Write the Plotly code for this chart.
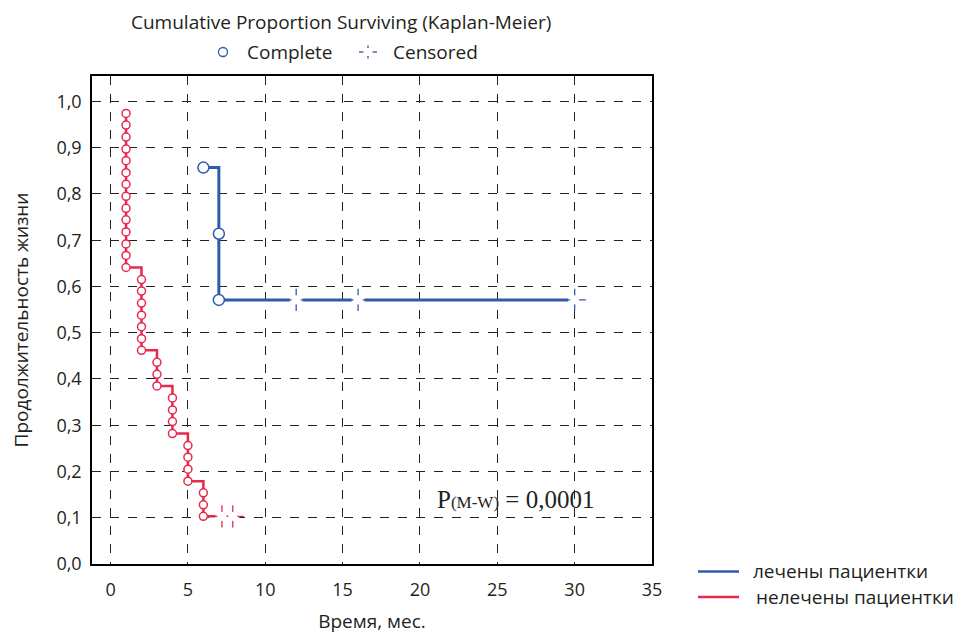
import plotly.graph_objects as go

# ---------------- data ----------------
# untreated (red): event times and KM survival at each event
red_times = [1]*14 + [2]*7 + [3]*3 + [4]*4 + [5]*4 + [6]*3
red_surv = [0.974, 0.949, 0.923, 0.897, 0.872, 0.846, 0.821, 0.795, 0.769, 0.744,
            0.718, 0.692, 0.667, 0.641,
            0.615, 0.590, 0.564, 0.538, 0.513, 0.487, 0.462,
            0.436, 0.410, 0.385,
            0.359, 0.333, 0.308, 0.282,
            0.256, 0.231, 0.205, 0.179,
            0.154, 0.128, 0.103]
red_cens_times = [7.2, 7.9]
red_cens_surv = [0.103, 0.103]

# treated (blue)
blue_times = [6, 7, 7]
blue_surv = [0.857, 0.714, 0.571]
blue_cens_times = [12, 16, 30]
blue_cens_surv = [0.571, 0.571, 0.571]

x_ticks = [0, 5, 10, 15, 20, 25, 30, 35]
y_ticks = [0.0, 0.1, 0.2, 0.3, 0.4, 0.5, 0.6, 0.7, 0.8, 0.9, 1.0]

BLUE = "#2f5bab"
RED = "#e8294d"
TXT = "#231f20"
FONT = "Open Sans"

fig = go.Figure()

def add_group(times, surv, ctimes, csurv, color, lw, msize):
    fig.add_trace(go.Scatter(x=times + ctimes, y=surv + csurv, mode="lines",
                             line=dict(color=color, width=lw, shape="hv"),
                             showlegend=False, hoverinfo="skip"))
    fig.add_trace(go.Scatter(x=times, y=surv, mode="markers",
                             marker=dict(symbol="circle", size=msize, color="white",
                                         line=dict(color=color, width=1.5)),
                             showlegend=False))
    # censored markers: white mask, thin cross, central gap
    fig.add_trace(go.Scatter(x=ctimes, y=csurv, mode="markers",
                             marker=dict(symbol="square", size=13, color="white",
                                         line=dict(width=0)),
                             showlegend=False, hoverinfo="skip"))
    fig.add_trace(go.Scatter(x=ctimes, y=csurv, mode="markers",
                             marker=dict(symbol="cross-thin", size=16, color=color,
                                         line=dict(color=color, width=1.3)),
                             showlegend=False))
    fig.add_trace(go.Scatter(x=ctimes, y=csurv, mode="markers",
                             marker=dict(symbol="square", size=9, color="white",
                                         line=dict(width=0)),
                             showlegend=False, hoverinfo="skip"))

add_group(blue_times, blue_surv, blue_cens_times, blue_cens_surv, BLUE, 3, 11)
add_group(red_times, red_surv, red_cens_times, red_cens_surv, RED, 2.5, 8)

grid = dict(showgrid=True, gridcolor="#222", gridwidth=1, griddash="dash",
            zeroline=False, showline=True, linecolor="black", linewidth=1.5,
            mirror=True, ticks="", automargin=False,
            tickfont=dict(family=FONT, size=18, color=TXT))

fig.update_xaxes(range=[-1.2, 35], tickvals=x_ticks, ticklabelstandoff=9, **grid,
                 title=dict(text="Время, мес.", font=dict(family=FONT, size=19, color=TXT),
                            standoff=14))
fig.update_yaxes(range=[0, 1.055], tickvals=y_ticks, tickformat=".1f",
                 ticklabelstandoff=5, **grid,
                 title=dict(text="Продолжительность жизни",
                            font=dict(family=FONT, size=19, color=TXT), standoff=24))

# P annotation
fig.add_annotation(x=21, y=0.14, xref="x", yref="y", xanchor="left", yanchor="middle",
                   showarrow=False,
                   text="P<span style='font-size:17px'>(M-W)</span> = 0,0001",
                   font=dict(family="Liberation Serif", size=25, color=TXT))

# page has an 8px body margin; plot area in page pixels
OFF = 8
L, T, W, H = 92, 76, 560, 488
def px(x):
    return (x - L) / W
def py(y):
    return (T + H - y) / H

# top legend
fig.add_annotation(x=px(341), y=py(22), xref="paper", yref="paper", showarrow=False,
                   text="Cumulative Proportion Surviving (Kaplan-Meier)",
                   font=dict(family=FONT, size=19, color=TXT), xanchor="center", yanchor="middle")
fig.add_shape(type="circle", xref="paper", yref="paper",
              x0=px(218.5), x1=px(227.5), y0=py(47.5), y1=py(56.5),
              line=dict(color=BLUE, width=1.3), fillcolor="white")
fig.add_annotation(x=px(245), y=py(52), xref="paper", yref="paper", showarrow=False,
                   text="Complete", font=dict(family=FONT, size=19, color=TXT),
                   xanchor="left", yanchor="middle")
for (x0, y0, x1, y1) in [(359, 52, 363.5, 52), (372.5, 52, 377, 52),
                         (368, 45.5, 368, 48), (368, 56, 368, 58.5)]:
    fig.add_shape(type="line", xref="paper", yref="paper",
                  x0=px(x0), x1=px(x1), y0=py(y0), y1=py(y1),
                  line=dict(color=BLUE, width=1.3))
fig.add_annotation(x=px(391), y=py(52), xref="paper", yref="paper", showarrow=False,
                   text="Censored", font=dict(family=FONT, size=19, color=TXT),
                   xanchor="left", yanchor="middle")

# bottom-right legend
for color, yy, xt, label in [(BLUE, 571.5, 751, "лечены пациентки"),
                             (RED, 597, 754, "нелечены пациентки")]:
    fig.add_shape(type="line", xref="paper", yref="paper",
                  x0=px(698), x1=px(739), y0=py(yy), y1=py(yy),
                  line=dict(color=color, width=2.5))
    fig.add_annotation(x=px(xt), y=py(yy - 0.5), xref="paper", yref="paper", showarrow=False,
                       text=label, font=dict(family=FONT, size=19, color=TXT),
                       xanchor="left", yanchor="middle")

FW, FH = 963 - OFF, 635 - OFF
fig.update_layout(width=FW, height=FH, separators=", ",
                  margin=dict(l=L - OFF, r=FW - (L - OFF) - W, t=T - OFF,
                              b=FH - (T - OFF) - H),
                  plot_bgcolor="white", paper_bgcolor="white", showlegend=False)

fig.write_html("out.html")
